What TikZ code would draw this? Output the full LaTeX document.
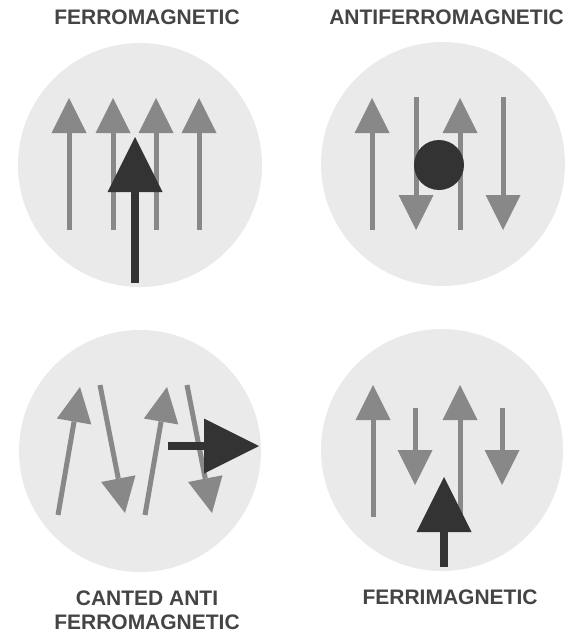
\documentclass[tikz,border=0pt]{standalone}
\usepackage{fontspec}
\setmainfont{Liberation Sans}
\usetikzlibrary{arrows.meta}
\definecolor{discgray}{HTML}{EAEAEA}
\definecolor{spingray}{HTML}{888888}
\definecolor{netdark}{HTML}{333333}
\definecolor{textgray}{HTML}{444444}

\begin{document}
\begin{tikzpicture}[x=1pt,y=-1pt,
  disc/.style={fill=discgray},
  spin/.style={spingray,line width=5pt,-{Triangle[width=35pt,length=35pt,line width=0pt]}},
  moment/.style={netdark,line width=8pt,-{Triangle[width=55pt,length=55pt,line width=0pt]}},
  phase/.style={textgray,inner sep=0pt,align=center,font=\bfseries\fontsize{21}{24}\selectfont}]
\useasboundingbox (0,0) rectangle (566,634);
\node[phase] (ferro) at (147,17) {FERROMAGNETIC};
\fill[disc] (140,165) circle (122);
\draw[spin] (69,230) -- (69,98);
\draw[spin] (113,230) -- (113,98);
\draw[spin] (156,230) -- (156,98);
\draw[spin] (199,230) -- (199,98);
\draw[moment] (135,283) -- (135,137);
\node[phase,anchor=east] (antiferro) at (564,17) {ANTIFERROMAGNETIC};
\fill[disc] (443,164) circle (122);
\draw[spin] (372,230) -- (372,98);
\draw[spin] (416,97) -- (416,230);
\draw[spin] (460,230) -- (460,98);
\draw[spin] (503,97) -- (503,230);
\fill[netdark] (439,165) circle (25);
\fill[disc] (140,451) circle (121);
\draw[spin] (58,515) -- (80,387);
\draw[spin] (100,385) -- (125,513);
\draw[spin] (145,515) -- (167,387);
\draw[spin] (187,385) -- (212,513);
\draw[moment] (168,446) -- (259,446);
\node[phase] (canted) at (147,610) {CANTED ANTI\\FERROMAGNETIC};
\fill[disc] (442,450) circle (121);
\draw[spin] (373,517) -- (373,385);
\draw[spin] (415,408) -- (415,485);
\draw[spin] (460,517) -- (460,385);
\draw[spin] (502,408) -- (502,485);
\draw[moment] (444,567) -- (444,477);
\node[phase] (ferri) at (450,597) {FERRIMAGNETIC};
\end{tikzpicture}
\end{document}
